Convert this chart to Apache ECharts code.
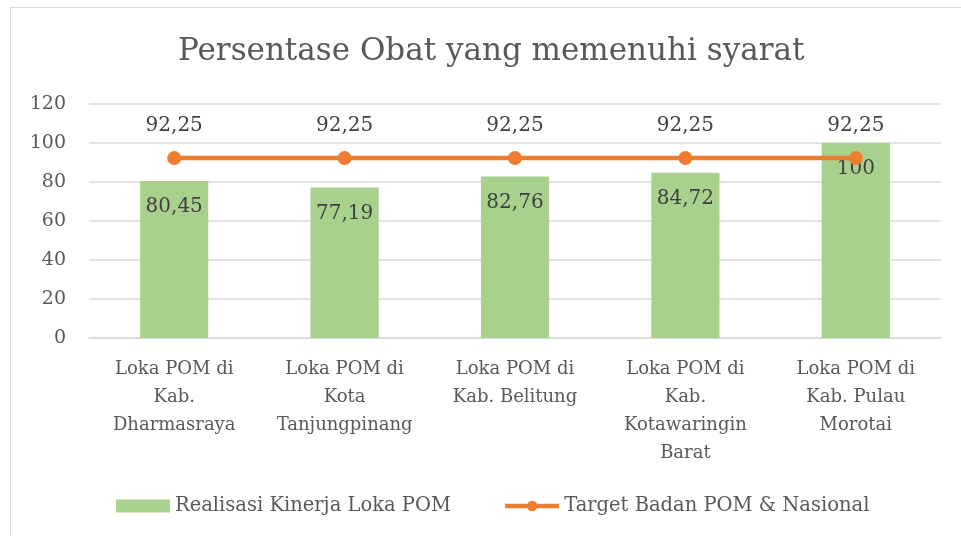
<!DOCTYPE html>
<html>
<head>
<meta charset="utf-8">
<script src="https://cdn.jsdelivr.net/npm/echarts@6/dist/echarts.min.js"></script>
<style>
  html, body { margin: 0; padding: 0; background: #fff; }
  #frame { position: absolute; left: 10px; top: 7px; width: 1000px; height: 600px;
           border-top: 1px solid #d9d9d9; border-left: 1px solid #d9d9d9; }
  #chart { position: absolute; left: 0; top: 0; width: 961px; height: 536px; }
</style>
</head>
<body>
<div id="frame"></div>
<div id="chart"></div>
<script>
const categories = [
  'Loka POM di\nKab.\nDharmasraya',
  'Loka POM di\nKota\nTanjungpinang',
  'Loka POM di\nKab. Belitung',
  'Loka POM di\nKab.\nKotawaringin\nBarat',
  'Loka POM di\nKab. Pulau\nMorotai'
]
const realisasi = [80.45, 77.19, 82.76, 84.72, 100]
const target = [92.25, 92.25, 92.25, 92.25, 92.25]

const font = 'DejaVu Serif'
const ink = '#595959'
const fmt = (v) => String(v).replace('.', ',')

const chart = echarts.init(document.getElementById('chart'))
chart.setOption({
  animation: false,
  textStyle: { fontFamily: font },
  title: {
    text: 'Persentase Obat yang memenuhi syarat',
    left: 173,
    top: 31,
    textStyle: { color: ink, fontFamily: font, fontSize: 31, fontWeight: 'normal' }
  },
  legend: {
    bottom: 15,
    left: 111,
    itemWidth: 54,
    itemHeight: 13,
    itemGap: 52,
    textStyle: { color: ink, fontFamily: font, fontSize: 19.5 },
    data: [
      { name: 'Realisasi Kinerja Loka POM', icon: 'rect' },
      { name: 'Target Badan POM & Nasional', lineStyle: { width: 4.5 } }
    ]
  },
  grid: { left: 89, right: 20, top: 104, bottom: 198 },
  xAxis: {
    type: 'category',
    data: categories,
    axisLine: { lineStyle: { color: '#d9d9d9', width: 1.5 } },
    axisTick: { show: false },
    axisLabel: { color: ink, fontFamily: font, fontSize: 18, lineHeight: 28, margin: 17, interval: 0 }
  },
  yAxis: {
    type: 'value',
    min: 0,
    max: 120,
    interval: 20,
    axisLine: { show: false },
    axisTick: { show: false },
    splitLine: { lineStyle: { color: '#d9d9d9', width: 1.5 } },
    axisLabel: { color: ink, fontFamily: font, fontSize: 19, margin: 23 }
  },
  series: [
    {
      name: 'Realisasi Kinerja Loka POM',
      type: 'bar',
      data: realisasi,
      barWidth: '40%',
      itemStyle: { color: '#a9d18e' },
      label: {
        show: true,
        position: 'insideTop',
        distance: 16,
        color: '#404040',
        fontFamily: font,
        fontSize: 20,
        formatter: (p) => fmt(p.value)
      }
    },
    {
      name: 'Target Badan POM & Nasional',
      type: 'line',
      data: target,
      symbol: 'circle',
      symbolSize: 14,
      lineStyle: { color: '#ed7d31', width: 4.5 },
      itemStyle: { color: '#ed7d31' },
      label: {
        show: true,
        position: 'top',
        distance: 15,
        color: '#404040',
        fontFamily: font,
        fontSize: 20,
        formatter: (p) => fmt(p.value)
      }
    }
  ]
})
</script>
</body>
</html>
